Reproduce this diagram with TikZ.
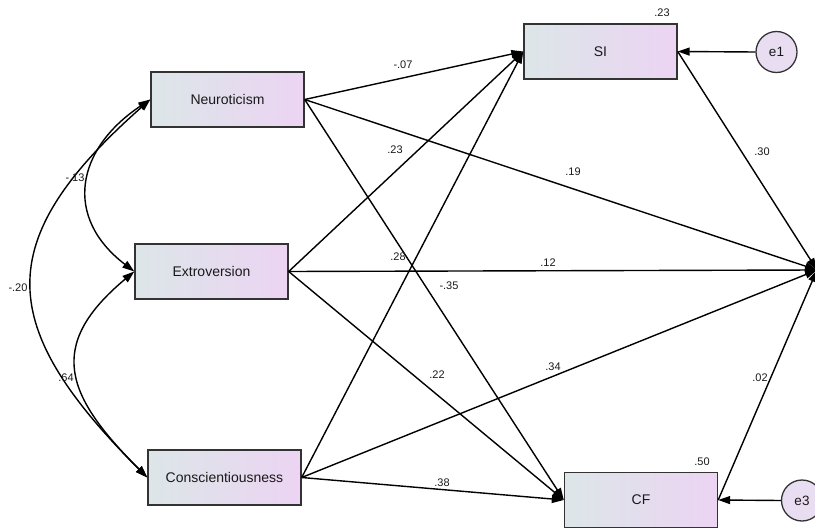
\documentclass[tikz,border=0pt]{standalone}
\usepackage{fontspec}
\setmainfont{Liberation Sans}
\usetikzlibrary{arrows.meta}
\definecolor{lgrey}{HTML}{DCE6E8}
\definecolor{lpurp}{HTML}{ECD4F3}
\definecolor{ecirc}{HTML}{E9DDF2}
\definecolor{edgeg}{HTML}{333333}
\tikzset{
  obsbox/.style={draw=edgeg, line width=1.4pt, minimum width=153pt, minimum height=55pt,
    left color=lgrey, right color=lpurp, inner sep=0pt, font=\fontsize{14}{16}\selectfont, text=black!90},
  errc/.style={circle, draw=edgeg, line width=1.3pt, fill=ecirc, minimum size=41pt, inner sep=0pt,
    font=\fontsize{13.5}{15}\selectfont, text=black!90},
  lbl/.style={font=\fontsize{11}{12}\selectfont, inner sep=0pt, text=black!90},
  path/.style={line width=1.4pt, -{Triangle[length=12pt,width=8pt]}},
  cov/.style={line width=1.4pt, {Triangle[length=12pt,width=8pt]}-{Triangle[length=12pt,width=8pt]}},
}
\begin{document}
\begin{tikzpicture}[x=1pt,y=-1pt]
\useasboundingbox (0,0) rectangle (815,530);
% observed variables
\node[obsbox] (N) at (227.5,99.5) {Neuroticism};
\node[obsbox] (E) at (211.5,271.5) {Extroversion};
\node[obsbox] (C) at (224.5,477.5) {Conscientiousness};
\node[obsbox] (SI) at (600.5,51.5) {SI};
\node[obsbox] (CF) at (641,500) {CF};
\node[errc] (e1) at (776.5,52) {e1};
\node[errc] (e3) at (802,500.5) {e3};
\coordinate (T) at (817,270);
% paths
\draw[path] (N.east) -- (SI.west);
\draw[path] (N.east) -- (T);
\draw[path] (N.east) -- (CF.west);
\draw[path] (E.east) -- (SI.west);
\draw[path] (E.east) -- (T);
\draw[path] (E.east) -- (CF.west);
\draw[path] (C.east) -- (SI.west);
\draw[path] (C.east) -- (T);
\draw[path] (C.east) -- (CF.west);
\draw[path] (SI.east) -- (T);
\draw[path] (CF.east) -- (T);
\draw[path] (e1.west) -- (SI.east);
\draw[path] (e3.west) -- (CF.east);
% covariances
\draw[cov] (N.west) .. controls (76,149) and (63,217) .. (E.west);
\draw[cov] (E.west) .. controls (45,346) and (66,396) .. (C.west);
\draw[cov] (N.west) .. controls (-11,242) and (-3,327) .. (C.west);
% labels
\node[lbl] (r1) at (662,13) {.23};
\node[lbl] (r3) at (702,462) {.50};
\node[lbl] (l1) at (403,65) {-.07};
\node[lbl] (l2) at (395,150) {.23};
\node[lbl] (l3) at (573,172) {.19};
\node[lbl] (l4) at (398,257) {.28};
\node[lbl] (l5) at (548,263) {.12};
\node[lbl] (l6) at (449,286) {-.35};
\node[lbl] (l7) at (437,375) {.22};
\node[lbl] (l8) at (553,367) {.34};
\node[lbl] (l9) at (442,483) {.38};
\node[lbl] (l10) at (762,152) {.30};
\node[lbl] (l11) at (760,378) {.02};
\node[lbl] (c1) at (75,178) {-.13};
\node[lbl] (c2) at (18,288) {-.20};
\node[lbl] (c3) at (66,378) {.64};
\end{tikzpicture}
\end{document}
